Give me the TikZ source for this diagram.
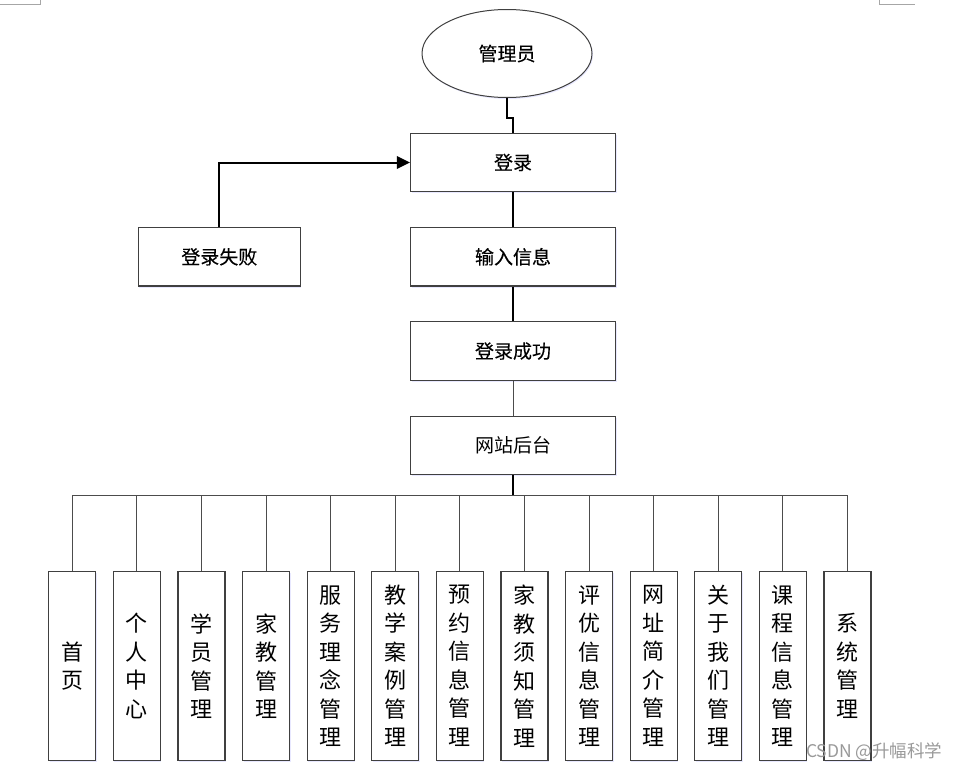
\documentclass[tikz,border=0pt]{standalone}
\usepackage{fontspec}
\newfontfamily\cjk{Noto Sans CJK SC}
\newfontfamily\cjkm[FakeBold=0.2]{Noto Sans CJK SC}
\usetikzlibrary{shapes.geometric, arrows.meta, positioning, shadows}

\begin{document}
\begin{tikzpicture}[
  x=1pt, y=-1pt,
  node distance=34.6pt,
  shad/.style={drop shadow={shadow xshift=1pt, shadow yshift=-1.5pt, fill=blue!30, opacity=.3}},
  box/.style={rectangle, draw=black!75, line width=1.2pt, fill=white, shad,
              minimum width=205pt, minimum height=58.5pt, inner sep=0pt,
              font=\cjkm\fontsize{19}{19}\selectfont},
  role/.style={ellipse, draw=black!75, line width=1pt, fill=white, shad,
               minimum width=170pt, minimum height=88pt, inner sep=0pt,
               font=\cjkm\fontsize{19}{19}\selectfont},
  mod/.style={rectangle, draw=black!75, line width=1.2pt, fill=white, shad,
              minimum width=47pt, minimum height=189pt, inner sep=0pt,
              align=center, font=\cjk\fontsize{22}{28.5}\selectfont},
  thickline/.style={line width=2pt, black},
  thinline/.style={line width=1pt, black!70}
]
\useasboundingbox (0,0) rectangle (961,771);

% page corner marks
\draw[black!35, line width=1pt] (0,4) -- (40.5,4) -- (40.5,0);
\draw[black!35, line width=1pt] (879,0) -- (879,4) -- (915,4);

% login flow
\node[role] (admin) at (507,53.5) {管理员};
\node[box] (login) at (513,162.5) {登录};
\node[box, below=of login] (input) {输入信息};
\node[box, below=of input] (ok) {登录成功};
\node[box, below=of ok, font=\cjk\fontsize{19}{19}\selectfont] (site) {网站后台};
\node[box, left=109pt of input, minimum width=162pt] (fail) {登录失败};

\draw[thickline] (admin.south) -- ++(0,20) -| (login.north);
\draw[thickline] (login) -- (input);
\draw[thickline] (input) -- (ok);
\draw[thinline] (ok) -- (site);
\draw[thickline, -{Triangle[length=13pt, width=12.5pt]}] (fail.north) |- (login.west);

% modules
\foreach \lbl [count=\i] in {{首\\页}, {个\\人\\中\\心}, {学\\员\\管\\理}, {家\\教\\管\\理},
    {服\\务\\理\\念\\管\\理}, {教\\学\\案\\例\\管\\理}, {预\\约\\信\\息\\管\\理},
    {家\\教\\须\\知\\管\\理}, {评\\优\\信\\息\\管\\理}, {网\\址\\简\\介\\管\\理},
    {关\\于\\我\\们\\管\\理}, {课\\程\\信\\息\\管\\理}, {系\\统\\管\\理}}
  \node[mod] (b\i) at ({72.2+64.6*(\i-1)}, 666) {\lbl};

\coordinate[below=20pt of site] (bus);
\draw[thickline] (site) -- (bus);
\draw[thinline] (b1.north |- bus) -- (b13.north |- bus);
\foreach \i in {1,...,13}
  \draw[thinline] (b\i.north |- bus) -- (b\i.north);

% watermark
\node[anchor=east, text=black!40, font=\cjk\fontsize{17.5}{17.5}\selectfont] (mark) at (946,752) {CSDN @升幅科学};

\end{tikzpicture}
\end{document}
